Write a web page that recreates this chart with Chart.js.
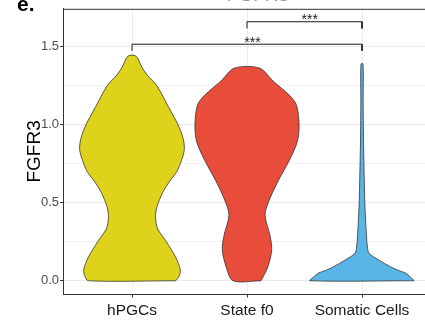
<!DOCTYPE html>
<html>
<head>
<meta charset="utf-8">
<script src="https://cdn.jsdelivr.net/npm/chart.js@4.4.0/dist/chart.umd.min.js"></script>
<style>
html, body { margin: 0; padding: 0; background: #fff; overflow: hidden; }
#wrap { position: relative; width: 432px; height: 320px; }
</style>
</head>
<body>
<div id="wrap"><canvas id="violinChart"></canvas></div>
<script>
var categories = ['hPGCs', 'State f0', 'Somatic Cells'];
var fillColors = ['#DED21A', '#E84C3B', '#58B5E6'];

// violin outlines: expression level and half-width (in category units)
var hpgcLevels = [0, 0.03, 0.07, 0.15, 0.26, 0.33, 0.40, 0.47, 0.57, 0.64, 0.70, 0.77, 0.84, 0.91, 1.00, 1.11, 1.25, 1.32, 1.37, 1.44];
var hpgcWidths = [0.38, 0.41, 0.42, 0.38, 0.29, 0.225, 0.205, 0.215, 0.27, 0.33, 0.39, 0.43, 0.455, 0.445, 0.40, 0.32, 0.216, 0.13, 0.085, 0.034];

var f0Levels = [0, 0.09, 0.2, 0.29, 0.42, 0.51, 0.64, 0.77, 0.9, 1.02, 1.13, 1.19, 1.28, 1.363];
var f0Widths = [0.122, 0.182, 0.215, 0.2, 0.157, 0.19, 0.271, 0.367, 0.441, 0.452, 0.428, 0.367, 0.227, 0.109];

var somaticLevels = [0, 0.024, 0.049, 0.068, 0.089, 0.132, 0.176, 0.216, 0.30, 0.47, 0.64, 0.9, 1.15, 1.389];
var somaticWidths = [0.454, 0.42, 0.38, 0.31, 0.25, 0.148, 0.061, 0.047, 0.038, 0.026, 0.02, 0.013, 0.01, 0.009];

var yGridValues = [0, 0.25, 0.5, 0.75, 1, 1.25, 1.5];
var yTickLabels = ['0.0', '', '0.5', '', '1.0', '', '1.5'];

// significance brackets (category positions, height, label)
var bracketFrom = [1, 2];
var bracketTo = [3, 3];
var bracketY = [1.516, 1.66];
var bracketDrop = [0.042, 0.043];
var bracketLabels = ['***', '***'];
var bracketLabelX = [2.048, 2.546];

Chart.defaults.font.family = '"Liberation Sans", Arial, sans-serif';

function violinPoints(center, levels, widths) {
    var pts = [];
    for (var i = 0; i < levels.length; i++) pts.push({x: center + widths[i], y: levels[i]});
    for (var j = levels.length - 1; j >= 0; j--) pts.push({x: center - widths[j], y: levels[j]});
    pts.push({x: center + widths[0], y: levels[0]});
    return pts;
}

var groups = [[hpgcLevels, hpgcWidths], [f0Levels, f0Widths], [somaticLevels, somaticWidths]];
var datasets = groups.map(function (g, i) {
    return {
        data: violinPoints(i + 1, g[0], g[1]),
        showLine: true,
        fill: 'shape',
        backgroundColor: fillColors[i],
        borderColor: '#333333',
        borderWidth: 0.8,
        tension: 0.3,
        pointRadius: 0
    };
});

bracketFrom.forEach(function (from, i) {
    datasets.push({
        data: [
            {x: from, y: bracketY[i] - bracketDrop[i]},
            {x: from, y: bracketY[i]},
            {x: bracketTo[i], y: bracketY[i]},
            {x: bracketTo[i], y: bracketY[i] - bracketDrop[i]}
        ],
        showLine: true,
        fill: false,
        borderColor: '#1a1a1a',
        borderWidth: 1,
        tension: 0,
        pointRadius: 0
    });
});

var extras = {
    id: 'extras',
    afterDatasetsDraw: function (chart) {
        var c = chart.ctx, xs = chart.scales.x, ys = chart.scales.y;
        c.save();
        c.fillStyle = '#1a1a1a';
        c.font = '14px "Liberation Sans", Arial, sans-serif';
        c.textAlign = 'center';
        c.textBaseline = 'alphabetic';
        bracketLabels.forEach(function (lab, i) {
            c.fillText(lab, xs.getPixelForValue(bracketLabelX[i]), ys.getPixelForValue(bracketY[i]) + 2.5);
        });
        c.restore();
    },
    afterDraw: function (chart) {
        var c = chart.ctx, a = chart.chartArea;
        c.save();
        c.strokeStyle = '#333333';
        c.lineWidth = 1;
        c.beginPath();
        c.moveTo(a.left, a.top + 0.5);
        c.lineTo(a.right, a.top + 0.5);
        c.lineTo(a.right - 0.5, a.bottom);
        c.stroke();
        c.fillStyle = '#000';
        c.font = 'bold 21px "Liberation Sans", Arial, sans-serif';
        c.textAlign = 'left';
        c.textBaseline = 'alphabetic';
        c.fillText('e.', 17, 10.5);
        // page title, cut off by the top of the figure
        c.fillStyle = '#999';
        c.font = '19px "Liberation Sans", Arial, sans-serif';
        c.textAlign = 'center';
        c.fillText('FGFR3', 258, 0.8);
        c.restore();
    }
};

var ctx = document.getElementById('violinChart').getContext('2d');
var violinChart = new Chart(ctx, {
    type: 'scatter',
    data: { datasets: datasets },
    options: {
        responsive: true,
        maintainAspectRatio: false,
        animation: false,
        layout: { padding: { top: 7, right: 1, left: 0, bottom: 0 } },
        plugins: {
            legend: { display: false },
            tooltip: { enabled: false }
        },
        scales: {
            x: {
                type: 'linear',
                min: 0.4,
                max: 3.6,
                afterBuildTicks: function (axis) {
                    axis.ticks = categories.map(function (c, i) { return {value: i + 1}; });
                },
                afterFit: function (scale) { scale.height = 26; },
                ticks: {
                    callback: function (v, i) { return categories[i]; },
                    color: '#1a1a1a',
                    font: { size: 15.5 },
                    padding: 4,
                    maxRotation: 0,
                    autoSkip: false
                },
                grid: { color: '#EBEBEB', tickColor: '#333333', tickLength: 3.5 },
                border: { color: '#333333', width: 1 }
            },
            y: {
                min: -0.085,
                max: 1.743,
                afterBuildTicks: function (axis) {
                    axis.ticks = yGridValues.map(function (v) { return {value: v}; });
                },
                afterFit: function (scale) { scale.width = 63; },
                ticks: {
                    callback: function (v, i) { return yTickLabels[i]; },
                    color: '#4D4D4D',
                    font: { size: 13 },
                    padding: 1,
                    autoSkip: false
                },
                grid: {
                    color: function (c) { return c.index % 2 === 0 ? '#EBEBEB' : '#F3F3F3'; },
                    tickColor: function (c) { return c.index % 2 === 0 ? '#333333' : 'rgba(0,0,0,0)'; },
                    tickLength: 3
                },
                border: { color: '#333333', width: 1 },
                title: {
                    display: true,
                    text: 'FGFR3',
                    color: '#000',
                    font: { size: 19 },
                    padding: { top: 23, bottom: 0 }
                }
            }
        }
    },
    plugins: [extras]
});
</script>
</body>
</html>
